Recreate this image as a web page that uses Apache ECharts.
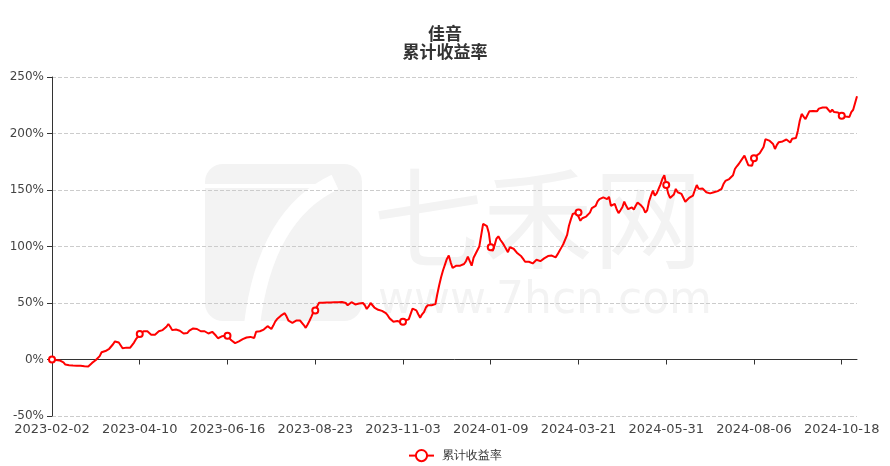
<!DOCTYPE html>
<html>
<head>
<meta charset="utf-8">
<script src="https://cdn.jsdelivr.net/npm/echarts@6/dist/echarts.min.js"></script>
<style>html,body{margin:0;padding:0;background:#fff}#c{width:890px;height:466px}</style>
</head>
<body>
<div id="c"></div>
<script>
// ---- data ----
var startDate = '2023-02-02';
var pointCount = 423;
var holidays = ['2023-04-05','2023-05-01','2023-05-02','2023-05-03','2023-06-22','2023-06-23',
  '2023-09-29','2023-10-02','2023-10-03','2023-10-04','2023-10-05','2023-10-06',
  '2024-01-01','2024-02-09','2024-02-12','2024-02-13','2024-02-14','2024-02-15','2024-02-16',
  '2024-04-04','2024-04-05','2024-05-01','2024-05-02','2024-05-03','2024-06-10',
  '2024-09-16','2024-09-17','2024-10-01','2024-10-02','2024-10-03','2024-10-04','2024-10-07'];
var labelEvery = 46;
var seriesName = '累计收益率';
var cumReturn = [
 0,-0.3,-0.5,-0.6,-0.8,-1.0,-2.5,-4.5,-4.8,-5.0,
 -5.2,-5.3,-5.4,-5.5,-5.6,-5.5,-5.8,-5.9,-6.0,-6.1,
 -6.2,-3.0,-1.5,-0.5,0.2,3.0,6.4,6.8,7.5,7.0,
 9.5,11.0,13.5,16.0,16.5,15.0,14.5,10.0,9.0,10.5,
 11.0,10.5,11.0,15.0,18.0,20.0,22.5,24.0,25.0,25.5,
 25.0,24.0,22.0,21.0,22.0,22.5,25.0,26.5,26.0,27.0,
 29.0,31.4,29.0,26.0,25.5,26.5,27.0,25.5,24.0,23.0,
 22.0,23.5,25.5,26.5,27.5,28.5,27.0,25.5,25.0,25.5,
 25.0,24.0,23.0,23.5,24.5,23.0,21.0,18.8,19.5,20.5,
 21.5,21.0,21.0,19.0,17.0,15.5,14.5,15.0,16.0,16.5,
 18.0,19.0,19.5,19.5,20.0,19.5,19.0,24.5,25.0,25.0,
 26.0,26.5,28.0,29.5,28.0,27.0,30.0,33.5,35.8,37.0,
 38.8,39.5,41.0,38.0,34.3,33.0,32.5,33.5,34.5,35.8,
 34.5,33.0,30.5,28.0,31.0,34.3,38.0,42.0,43.4,47.0,
 50.2,50.3,50.3,50.4,50.4,50.5,50.5,50.5,50.6,50.6,
 50.7,50.7,50.9,51.0,50.0,48.0,49.5,50.7,50.0,48.7,
 49.0,49.5,50.0,50.0,48.0,44.7,47.0,50.0,48.5,46.0,
 44.7,44.0,43.5,43.0,42.0,41.0,39.0,36.4,35.0,33.5,
 32.9,34.0,33.5,33.0,33.5,34.5,35.0,35.5,36.0,45.0,
 46.5,43.5,40.0,37.0,40.0,42.0,46.0,48.0,47.5,48.0,
 48.5,49.0,58.0,66.0,73.0,79.0,84.0,89.0,92.0,86.0,
 81.0,82.0,83.0,82.5,83.0,82.5,84.5,87.0,91.0,87.0,
 83.0,90.0,93.4,93.5,100.0,110.0,120.0,121.0,118.0,112.0,
 99.3,96.0,101.0,107.0,109.0,106.0,103.7,101.0,98.0,95.0,
 99.3,99.0,98.0,96.5,94.0,93.0,91.3,89.0,86.5,86.8,
 86.5,86.0,85.0,86.5,88.3,88.0,87.0,88.5,89.5,90.4,
 91.5,92.4,92.0,91.0,90.4,93.0,96.0,99.0,102.0,102.0,
 110.0,118.4,124.0,128.8,130.0,130.0,130.0,122.8,125.0,126.7,
 126.5,127.0,130.0,134.0,135.0,136.0,140.0,142.0,143.0,143.5,
 143.0,142.0,144.0,136.0,134.7,137.7,133.0,129.6,132.0,134.7,
 139.7,136.0,133.0,134.0,134.7,132.7,136.0,139.0,137.5,136.0,
 134.0,130.0,132.0,140.0,145.0,149.4,145.0,147.0,151.0,155.0,
 160.0,163.0,154.4,147.0,143.0,141.4,146.0,151.0,148.0,146.6,
 146.5,146.0,139.6,141.0,143.0,144.0,145.0,150.0,154.4,151.0,
 151.0,151.4,150.0,148.0,147.0,147.0,146.5,148.0,149.4,149.0,
 149.4,151.0,155.3,158.0,159.0,159.7,158.0,163.0,168.6,171.0,
 173.0,172.0,178.0,180.4,181.0,172.0,171.8,171.5,178.0,180.0,
 181.0,182.5,184.0,188.0,195.0,193.7,193.7,193.7,190.7,186.3,
 190.0,192.3,193.0,193.0,193.0,194.7,193.5,192.0,195.4,195.5,
 196.0,202.5,211.3,217.3,215.0,212.8,211.3,219.6,220.0,220.0,
 219.8,219.6,222.0,223.0,223.0,223.0,223.0,222.0,219.0,221.0,
 219.0,217.3,218.6,217.0,215.7,214.6,215.0,216.0,214.6,219.0,
 221.0,221.5,233.0
];
var yTicks = {min: -50, max: 250, interval: 50};

// ---- build trading-day categories ----
function pad(n){return n<10?'0'+n:''+n;}
function buildDates(){
  var out=[]; var p=startDate.split('-');
  var d=new Date(Date.UTC(+p[0],+p[1]-1,+p[2]));
  var hs={}; holidays.forEach(function(h){hs[h]=1;});
  while(out.length<pointCount){
    var wd=d.getUTCDay();
    var s=d.getUTCFullYear()+'-'+pad(d.getUTCMonth()+1)+'-'+pad(d.getUTCDate());
    if(wd!==0&&wd!==6&&!hs[s]) out.push(s);
    d=new Date(d.getTime()+86400000);
  }
  return out;
}
var categories = buildDates();

var chart = echarts.init(document.getElementById('c'));
var labelColor = '#444';
var font = 'DejaVu Sans';
chart.setOption({
  animation:false,
  backgroundColor:'#fff',
  title:{
    text:'佳音\n累计收益率', left:'center', top:20,
    textStyle:{fontSize:17,fontWeight:'bold',color:'#333',lineHeight:18,fontFamily:'Noto Sans CJK SC'}
  },
  graphic:[
    {type:'rect',shape:{x:205,y:164,width:157,height:157,r:18},style:{fill:'#f3f3f3'},z:-10,silent:true},
    {type:'bezierCurve',shape:{x1:335,y1:182,x2:252,y2:325,cpx1:265,cpy1:215},style:{stroke:'#fff',lineWidth:16,fill:null},z:-9,silent:true},
    {type:'line',shape:{x1:205,y1:186,x2:330,y2:186},style:{stroke:'#fff',lineWidth:4},z:-9,silent:true},
    {type:'text',style:{x:538,y:218,text:'七禾网',fontSize:110,fill:'#f3f3f3',textAlign:'center',textVerticalAlign:'middle',fontFamily:'Noto Sans CJK SC'},z:-10,silent:true},
    {type:'text',style:{x:545,y:302,text:'www.7hcn.com',fontSize:44,fill:'#f3f3f3',textAlign:'center',textVerticalAlign:'middle',fontFamily:'DejaVu Sans'},z:-10,silent:true}
  ],
  legend:{
    top:444, left:403, itemWidth:25, itemHeight:14, itemGap:10,
    textStyle:{color:'#333',fontSize:12,padding:[0,0,0,3]},
    data:[seriesName]
  },
  grid:{left:52,right:33,top:77,bottom:50,containLabel:false},
  xAxis:[
    {type:'category',data:categories,boundaryGap:false,
     axisLine:{onZero:true,lineStyle:{color:'#333'}},
     axisTick:{show:true,length:5,interval:labelEvery-1,lineStyle:{color:'#333'}},
     axisLabel:{show:true,interval:labelEvery-1,color:'rgba(0,0,0,0)',fontSize:13,fontFamily:font},
     splitLine:{show:false}},
    {type:'category',data:categories,boundaryGap:false,position:'bottom',
     axisLine:{show:false,onZero:false},axisTick:{show:false},
     axisLabel:{show:true,interval:labelEvery-1,color:labelColor,fontSize:13,fontFamily:font,margin:7},
     splitLine:{show:false}}
  ],
  yAxis:{
    type:'value',min:yTicks.min,max:yTicks.max,interval:yTicks.interval,
    axisLine:{show:true,lineStyle:{color:'#333'}},
    axisTick:{show:true,length:5,lineStyle:{color:'#333'}},
    axisLabel:{formatter:'{value}%',color:labelColor,fontSize:12,fontFamily:font,margin:8},
    splitLine:{show:true,lineStyle:{type:'dashed',color:'#ccc'}}
  },
  series:[{
    name:seriesName,type:'line',data:cumReturn,xAxisIndex:0,
    symbol:'emptyCircle',symbolSize:6,showAllSymbol:'auto',
    lineStyle:{color:'#ff0000',width:2},
    itemStyle:{color:'#ff0000',borderWidth:1}
  }]
});
</script>
</body>
</html>
